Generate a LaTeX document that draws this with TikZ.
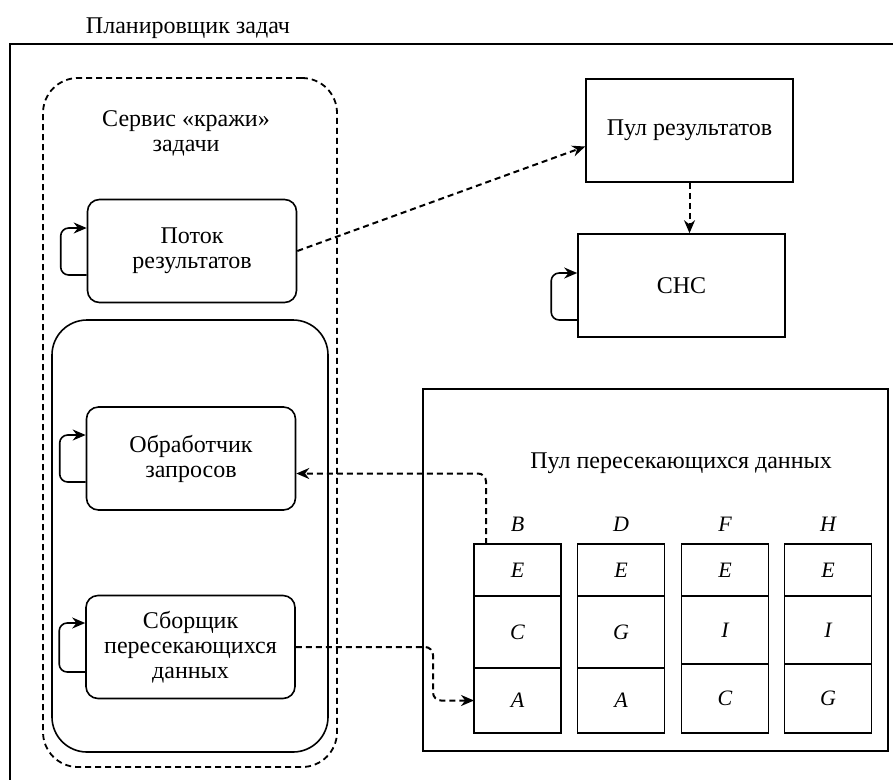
\documentclass[tikz,border=0pt]{standalone}
\usepackage{fontspec}
\setmainfont{Liberation Serif}
\usetikzlibrary{arrows.meta}

\begin{document}
\begin{tikzpicture}[x=1pt, y=-1pt, line width=1.6pt,
    txt/.style={font=\fontsize{24}{25}\selectfont, align=center},
    block/.style={txt, draw, rounded corners=12pt, minimum width=209pt,
      minimum height=103pt, inner sep=0pt},
    plain/.style={txt, draw, minimum width=207pt, minimum height=103pt, inner sep=0pt},
    cell/.style={draw, font=\fontsize{22}{24}\selectfont\itshape,
      minimum width=87pt, inner sep=0pt, outer sep=0pt},
    dashes/.style={dash pattern=on 6pt off 4pt},
    flow/.style={dashes, line width=2pt, -{Stealth[length=13pt, width=11pt]}},
    selfloop/.style={-{Stealth[length=13pt, width=11pt]}, rounded corners=8pt},
  ]
  \useasboundingbox (0,0) rectangle (893,780);
  % scheduler frame, cut by the page
  \node[txt, anchor=base] (title) at (188,33) {Планировщик задач};
  \draw (893,44) -| (10,780);

  % task stealing service
  \node[draw, dashes, line width=1.8pt, rounded corners=35pt, minimum width=294pt,
    minimum height=689pt] (service) at (190,422.5) {};
  \node[draw, rounded corners=35pt, minimum width=276pt,
    minimum height=432pt] (core) at (190,536) {};
  \node[txt] (servtitle) at (186,133) {Сервис «кражи»\\задачи};
  \node[block] (potok) at (192,251) {Поток\\результатов};
  \node[block] (obrab) at (191,458.5) {Обработчик\\запросов};
  \node[block] (sborshik) at (190.5,647) {Сборщик\\пересекающихся\\данных};

  % result pool and its consumer
  \node[plain] (poolres) at (689.5,130.5) {Пул результатов};
  \node[plain] (snc) at (681.5,285.5) {СНС};

  % pool of crossing data
  \node[draw, minimum width=465pt, minimum height=362pt] (pool) at (655.5,570) {};
  \node[txt] (pooltitle) at (681,463) {Пул пересекающихся данных};
  \foreach \col/\lab/\x/\ra/\rb/\rc/\hb/\hc in
      {b/B/517.5/E/C/A/72/65, d/D/621/E/G/A/72/65,
       f/F/725/E/I/C/68/69, h/H/828/E/I/G/68/69}{
    \node[font=\fontsize{22}{24}\selectfont\itshape] (\col lab) at (\x,524) {\lab};
    \node[cell, minimum height=52pt, anchor=north] (\col1) at (\x,544) {\ra};
    \node[cell, minimum height=\hb pt, anchor=north] (\col2) at (\col1.south) {\rb};
    \node[cell, minimum height=\hc pt, anchor=north] (\col3) at (\col2.south) {\rc};
  }

  % connectors
  \draw[flow] (potok.east) -- ([yshift=-16pt]poolres.west);
  \draw[flow] (poolres.south) -- (poolres.south |- snc.north);
  \draw[flow, rounded corners=8pt] ([xshift=-31.5pt]b1.north) |- ([yshift=-15pt]obrab.east);
  \draw[flow, rounded corners=8pt] (sborshik.east) -| ([xshift=-41pt]b3.west) -- (b3.west);

  % self loops
  \draw[selfloop] ([yshift=-24pt]potok.west) -- ++(-26pt,0) |- ([yshift=23pt]potok.west);
  \draw[selfloop] ([yshift=-23.5pt]obrab.west) -- ++(-26pt,0) |- ([yshift=23.5pt]obrab.west);
  \draw[selfloop] ([yshift=-25pt]sborshik.west) -- ++(-26pt,0) |- ([yshift=24pt]sborshik.west);
  \draw[selfloop] ([yshift=-34.5pt]snc.west) -- ++(-26pt,0) |- ([yshift=12.5pt]snc.west);
\end{tikzpicture}
\end{document}
